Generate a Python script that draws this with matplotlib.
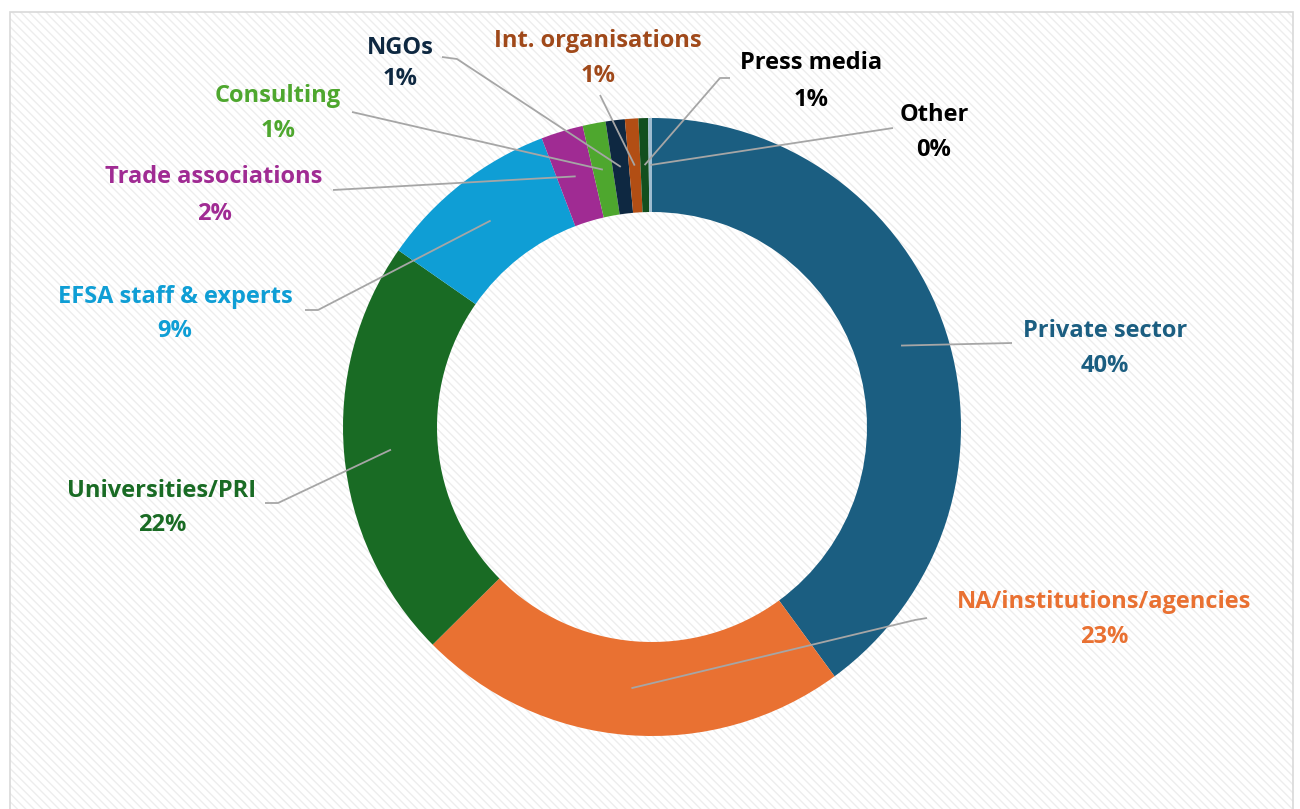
import matplotlib
matplotlib.use('Agg')
import matplotlib.pyplot as plt
import numpy as np
from matplotlib.patches import Rectangle

categories = ['Private sector', 'NA/institutions/agencies', 'Universities/PRI',
              'EFSA staff & experts', 'Trade associations', 'Consulting', 'NGOs',
              'Int. organisations', 'Press media', 'Other']
values = [39.9, 22.6, 22.1, 9.5, 2.2, 1.2, 1.0, 0.7, 0.5, 0.2]
pct_labels = ['40%', '23%', '22%', '9%', '2%', '1%', '1%', '1%', '1%', '0%']
colors = ['#1B5E81', '#E97132', '#196B24', '#0F9ED5', '#A02B93', '#4EA72E',
          '#0E2841', '#B24E14', '#124F1E', '#9FBCD0']
label_colors = ['#1B5E81', '#E97132', '#196B24', '#0F9ED5', '#A02B93', '#4EA72E',
                '#0E2841', '#A0491A', '#000000', '#000000']

# layout (image pixel coords, y down)
name_pos = [(1105, 328), (1104, 599), (162, 488), (175, 294), (214, 174),
            (278, 93), (400, 45), (598, 38), (811, 60), (934, 112)]
pct_y = [363, 634, 522, 328, 211, 128, 76, 73, 97, 147]
leader_pts = [[(1012, 343)], [(915, 620), (927, 618)], [(278, 503), (265, 503)],
              [(318, 310), (305, 310)], [(333, 190)], [(352, 112)],
              [(457, 59), (442, 57)], [(600, 95)], [(720, 78), (730, 78)],
              [(893, 128)]]

W, H = 1300, 809
FONT = ['Open Sans', 'DejaVu Sans']
fig = plt.figure(figsize=(13, 8.09), dpi=100)
ax = fig.add_axes([0, 0, 1, 1])

cx, cy = 652, H - 427
R, r_in = 309, 215

bg = Rectangle((10, -10), 1283, H - 12 + 10, facecolor='white', edgecolor='#EDEDED',
               hatch='\\\\\\\\', linewidth=0, zorder=0)
ax.add_patch(bg)
border = Rectangle((10, -10), 1283, H - 12 + 10, facecolor='none', edgecolor='#D9D9D9',
                   linewidth=1.2, zorder=0.5)
ax.add_patch(border)

wedges, _ = ax.pie(values, colors=colors, startangle=90, counterclock=False,
                   radius=R, center=(cx, cy), frame=True,
                   wedgeprops=dict(width=R - r_in, linewidth=0, zorder=1))
ax.set_xlim(0, W)
ax.set_ylim(0, H)
ax.set_aspect('equal')
ax.axis('off')

rm = (R + r_in) / 2
for i, w in enumerate(wedges):
    ang = np.deg2rad((w.theta1 + w.theta2) / 2)
    sx, sy = cx + rm * np.cos(ang), cy + rm * np.sin(ang)
    xs = [sx] + [p[0] for p in leader_pts[i]]
    ys = [sy] + [H - p[1] for p in leader_pts[i]]
    ax.plot(xs, ys, color='#A6A6A6', lw=1.3, zorder=3, solid_capstyle='butt')
    nx, ny = name_pos[i]
    ax.text(nx, H - ny, categories[i], ha='center', va='center_baseline', fontsize=17,
            fontweight='bold', color=label_colors[i], family=FONT, zorder=4)
    ax.text(nx, H - pct_y[i], pct_labels[i], ha='center', va='center_baseline', fontsize=17,
            fontweight='bold', color=label_colors[i], family=FONT, zorder=4)

fig.savefig('out.png', dpi=100, facecolor='white')
